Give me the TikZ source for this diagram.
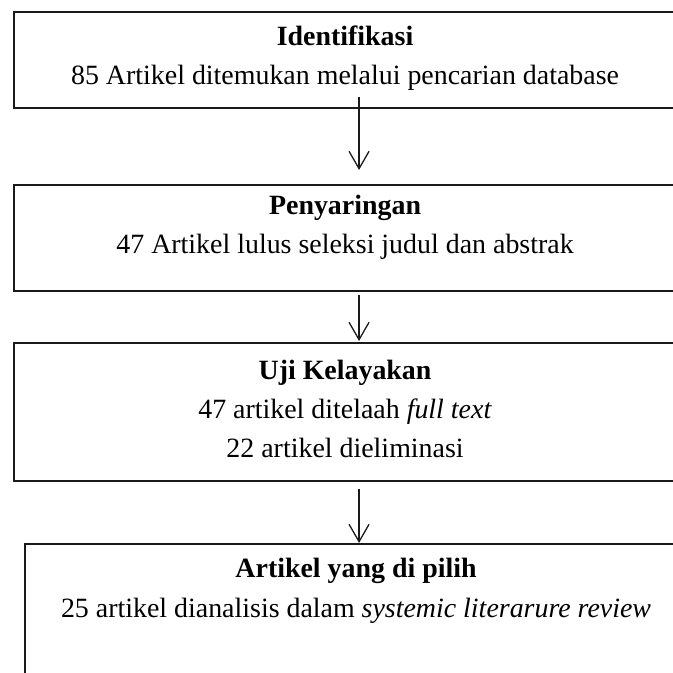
\documentclass[tikz,border=0pt]{standalone}
\usepackage{fontspec}
\setmainfont{Liberation Serif}
\usetikzlibrary{arrows.meta,positioning}

\begin{document}
\begin{tikzpicture}[x=0.43pt,y=0.43pt,
    >={Straight Barb[length=7.5pt,width=8.6pt]},
    font=\fontsize{12pt}{16.8pt}\selectfont,
    box/.style={draw=BoxLine,line width=0.85pt,rectangle,anchor=north west,
                minimum width=284.7pt,inner sep=0pt},
    boxtext/.style={align=center,inner sep=0pt,anchor=north},
    flow/.style={->,line width=0.55pt,BoxLine}]
  %--- Theme colors ---
  \definecolor{BoxLine}{HTML}{1A1A1A}   % box borders and arrows

  %--- Page frame (reference is 673 x 673 px, 1 unit = 1 px) ---
  \useasboundingbox (0,0) rectangle (673,-673);

  %--- Boxes (right edges run off the page) ---
  \node[box,minimum height=41.3pt] (ident)  at (13,-11)  {};
  \node[box,minimum height=45.6pt] (saring) at (13,-184) {};
  \node[box,minimum height=59.3pt] (layak)  at (13,-342) {};
  \node[box,minimum height=64.5pt] (pilih)  at (24,-543) {};

  %--- Box texts ---
  \node[boxtext,below=6pt of ident.north]  (identtxt)
    {\textbf{Identifikasi}\\85 Artikel ditemukan melalui pencarian database};
  \node[boxtext,below=4.7pt of saring.north] (saringtxt)
    {\textbf{Penyaringan}\\47 Artikel lulus seleksi judul dan abstrak};
  \node[boxtext,below=7.7pt of layak.north]  (layaktxt)
    {\textbf{Uji Kelayakan}\\47 artikel ditelaah \textit{full text}\\22 artikel dieliminasi};
  \node[boxtext,below=6.5pt of pilih.north]  (pilihtxt)
    {\textbf{Artikel yang di pilih}\\25 artikel dianalisis dalam \textit{systemic literarure review}};

  %--- Arrows on top ---
  \draw[flow] ([shift={(14,12)}]ident.south)  -- ([shift={(14,14)}]saring.north);
  \draw[flow] ([shift={(14,-3)}]saring.south) -- ([shift={(14,1)}]layak.north);
  \draw[flow] ([shift={(14,-7)}]layak.south)  -- ([shift={(3,0)}]pilih.north);
\end{tikzpicture}
\end{document}
